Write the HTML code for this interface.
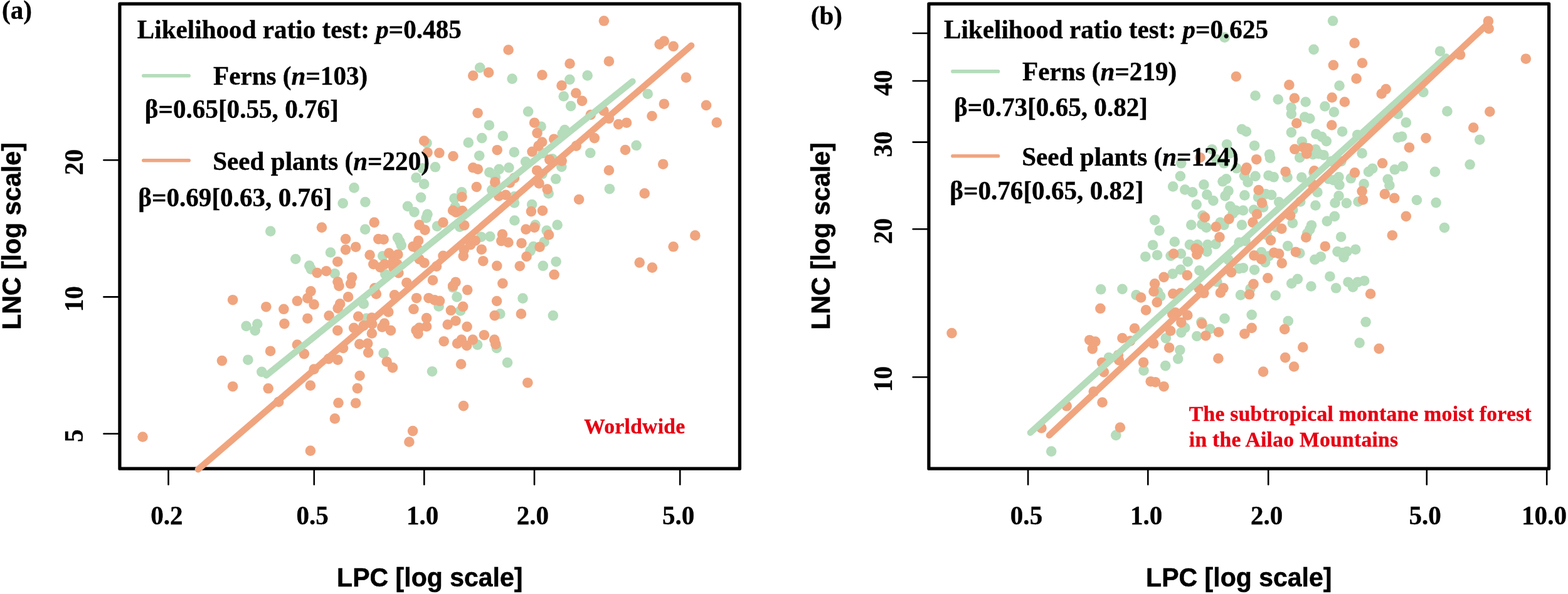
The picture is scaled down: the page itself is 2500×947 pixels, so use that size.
<!DOCTYPE html>
<html lang="en">
<head>
<meta charset="utf-8">
<title>LNC vs LPC scaling in ferns and seed plants</title>
<style>
html,body{margin:0;padding:0;background:#fff;}
body{width:2500px;height:947px;overflow:hidden;}
svg{display:block;}
text{font-family:'Liberation Serif', 'Times New Roman', serif;font-weight:bold;fill:#000;stroke:#000;stroke-width:0.35px;}
.tk{font-size:41.1px;}
.lg{font-size:41.15px;}
.ax{font-family:'Liberation Sans', Arial, sans-serif;font-size:41.05px;stroke:#000;stroke-width:0.5px;}
.rd{font-size:33.6px;fill:#E60012;stroke:#E60012;letter-spacing:0.28px;}
.it{font-style:italic;}
</style>
</head>
<body>
<svg width="2500" height="947" viewBox="0 0 2500 947">
<rect x="0" y="0" width="2500" height="947" fill="#fff"/>
<g id="panel-a">
<rect x="190.9" y="6.2" width="988.5000000000001" height="741.0" fill="none" stroke="#000" stroke-width="5.2" stroke-linejoin="round"/>
<g fill="#B5DCBB"><circle cx="765.2" cy="107.9" r="8.3"/><circle cx="816.6" cy="125.6" r="8.3"/><circle cx="936.6" cy="120.4" r="8.3"/><circle cx="908.3" cy="126.8" r="8.3"/><circle cx="898.7" cy="153.5" r="8.3"/><circle cx="910.1" cy="169.1" r="8.3"/><circle cx="842.1" cy="177.8" r="8.3"/><circle cx="1032.7" cy="149.7" r="8.3"/><circle cx="779.9" cy="199.7" r="8.3"/><circle cx="862.6" cy="201.7" r="8.3"/><circle cx="900.3" cy="207.1" r="8.3"/><circle cx="896.7" cy="213.1" r="8.3"/><circle cx="801.8" cy="216.7" r="8.3"/><circle cx="768.3" cy="220.1" r="8.3"/><circle cx="746.8" cy="227.4" r="8.3"/><circle cx="1014.6" cy="231.8" r="8.3"/><circle cx="941.2" cy="243.8" r="8.3"/><circle cx="819.8" cy="242.6" r="8.3"/><circle cx="764.2" cy="248.2" r="8.3"/><circle cx="694.0" cy="266.3" r="8.3"/><circle cx="838.1" cy="257.8" r="8.3"/><circle cx="880.6" cy="253.2" r="8.3"/><circle cx="865.6" cy="244.2" r="8.3"/><circle cx="811.4" cy="267.3" r="8.3"/><circle cx="795.7" cy="269.9" r="8.3"/><circle cx="780.3" cy="274.7" r="8.3"/><circle cx="789.9" cy="282.3" r="8.3"/><circle cx="895.3" cy="265.9" r="8.3"/><circle cx="864.6" cy="277.3" r="8.3"/><circle cx="886.2" cy="285.3" r="8.3"/><circle cx="971.9" cy="301.2" r="8.3"/><circle cx="736.1" cy="306.4" r="8.3"/><circle cx="724.5" cy="316.4" r="8.3"/><circle cx="784.3" cy="302.8" r="8.3"/><circle cx="874.6" cy="308.4" r="8.3"/><circle cx="820.0" cy="313.4" r="8.3"/><circle cx="820.0" cy="323.5" r="8.3"/><circle cx="848.1" cy="326.1" r="8.3"/><circle cx="725.7" cy="329.5" r="8.3"/><circle cx="820.4" cy="351.5" r="8.3"/><circle cx="853.5" cy="358.6" r="8.3"/><circle cx="888.6" cy="358.6" r="8.3"/><circle cx="697.0" cy="360.6" r="8.3"/><circle cx="733.1" cy="361.6" r="8.3"/><circle cx="871.6" cy="367.6" r="8.3"/><circle cx="867.6" cy="385.7" r="8.3"/><circle cx="850.5" cy="393.1" r="8.3"/><circle cx="845.5" cy="400.1" r="8.3"/><circle cx="767.2" cy="377.7" r="8.3"/><circle cx="781.3" cy="377.1" r="8.3"/><circle cx="886.6" cy="417.2" r="8.3"/><circle cx="865.8" cy="423.8" r="8.3"/><circle cx="722.1" cy="458.3" r="8.3"/><circle cx="728.5" cy="473.4" r="8.3"/><circle cx="833.5" cy="475.6" r="8.3"/><circle cx="699.6" cy="488.4" r="8.3"/><circle cx="734.1" cy="495.4" r="8.3"/><circle cx="797.3" cy="500.4" r="8.3"/><circle cx="881.8" cy="503.1" r="8.3"/><circle cx="761.2" cy="549.6" r="8.3"/><circle cx="791.9" cy="555.0" r="8.3"/><circle cx="809.0" cy="578.1" r="8.3"/><circle cx="689.0" cy="592.2" r="8.3"/><circle cx="680.5" cy="228.2" r="8.3"/><circle cx="673.5" cy="268.3" r="8.3"/><circle cx="663.5" cy="283.3" r="8.3"/><circle cx="676.1" cy="293.4" r="8.3"/><circle cx="564.6" cy="299.4" r="8.3"/><circle cx="671.1" cy="314.8" r="8.3"/><circle cx="546.7" cy="324.1" r="8.3"/><circle cx="582.4" cy="322.1" r="8.3"/><circle cx="650.0" cy="328.9" r="8.3"/><circle cx="660.5" cy="338.1" r="8.3"/><circle cx="681.5" cy="341.5" r="8.3"/><circle cx="679.5" cy="347.5" r="8.3"/><circle cx="431.3" cy="368.6" r="8.3"/><circle cx="582.2" cy="365.6" r="8.3"/><circle cx="634.0" cy="379.1" r="8.3"/><circle cx="637.4" cy="385.1" r="8.3"/><circle cx="639.8" cy="391.1" r="8.3"/><circle cx="527.0" cy="402.5" r="8.3"/><circle cx="610.3" cy="408.2" r="8.3"/><circle cx="471.3" cy="413.0" r="8.3"/><circle cx="493.3" cy="423.6" r="8.3"/><circle cx="495.9" cy="429.2" r="8.3"/><circle cx="533.7" cy="436.2" r="8.3"/><circle cx="614.3" cy="437.2" r="8.3"/><circle cx="579.8" cy="484.4" r="8.3"/><circle cx="584.2" cy="507.5" r="8.3"/><circle cx="392.6" cy="519.9" r="8.3"/><circle cx="410.3" cy="516.5" r="8.3"/><circle cx="406.7" cy="526.9" r="8.3"/><circle cx="395.4" cy="573.7" r="8.3"/><circle cx="417.3" cy="592.8" r="8.3"/><circle cx="611.7" cy="563.1" r="8.3"/></g>
<g fill="#F0A57F"><circle cx="962.9" cy="33.3" r="8.3"/><circle cx="810.6" cy="79.5" r="8.3"/><circle cx="1051.6" cy="70.6" r="8.3"/><circle cx="1058.8" cy="65.6" r="8.3"/><circle cx="1073.6" cy="73.8" r="8.3"/><circle cx="908.5" cy="101.5" r="8.3"/><circle cx="970.9" cy="97.7" r="8.3"/><circle cx="754.2" cy="120.6" r="8.3"/><circle cx="779.1" cy="115.6" r="8.3"/><circle cx="864.4" cy="119.6" r="8.3"/><circle cx="1093.9" cy="123.6" r="8.3"/><circle cx="895.5" cy="136.4" r="8.3"/><circle cx="918.3" cy="148.5" r="8.3"/><circle cx="928.0" cy="160.9" r="8.3"/><circle cx="1058.8" cy="165.7" r="8.3"/><circle cx="1126.0" cy="167.9" r="8.3"/><circle cx="761.6" cy="180.2" r="8.3"/><circle cx="962.5" cy="176.6" r="8.3"/><circle cx="1039.5" cy="185.0" r="8.3"/><circle cx="941.8" cy="183.0" r="8.3"/><circle cx="970.9" cy="189.0" r="8.3"/><circle cx="986.1" cy="198.1" r="8.3"/><circle cx="999.0" cy="195.7" r="8.3"/><circle cx="1142.8" cy="195.4" r="8.3"/><circle cx="852.1" cy="195.7" r="8.3"/><circle cx="856.5" cy="212.1" r="8.3"/><circle cx="864.2" cy="226.5" r="8.3"/><circle cx="858.5" cy="232.6" r="8.3"/><circle cx="848.5" cy="241.8" r="8.3"/><circle cx="883.2" cy="221.7" r="8.3"/><circle cx="947.8" cy="220.1" r="8.3"/><circle cx="918.7" cy="232.6" r="8.3"/><circle cx="997.0" cy="239.0" r="8.3"/><circle cx="700.4" cy="243.8" r="8.3"/><circle cx="722.5" cy="249.0" r="8.3"/><circle cx="792.7" cy="239.2" r="8.3"/><circle cx="754.2" cy="267.3" r="8.3"/><circle cx="761.8" cy="269.7" r="8.3"/><circle cx="876.2" cy="254.6" r="8.3"/><circle cx="895.7" cy="256.6" r="8.3"/><circle cx="856.1" cy="271.7" r="8.3"/><circle cx="970.9" cy="271.5" r="8.3"/><circle cx="1057.2" cy="261.7" r="8.3"/><circle cx="789.3" cy="290.4" r="8.3"/><circle cx="820.0" cy="283.9" r="8.3"/><circle cx="812.8" cy="291.4" r="8.3"/><circle cx="759.8" cy="298.0" r="8.3"/><circle cx="859.5" cy="292.4" r="8.3"/><circle cx="872.6" cy="301.6" r="8.3"/><circle cx="736.5" cy="314.0" r="8.3"/><circle cx="795.3" cy="312.4" r="8.3"/><circle cx="806.4" cy="310.8" r="8.3"/><circle cx="923.1" cy="318.0" r="8.3"/><circle cx="1027.7" cy="308.4" r="8.3"/><circle cx="722.1" cy="335.5" r="8.3"/><circle cx="727.1" cy="338.5" r="8.3"/><circle cx="737.2" cy="336.1" r="8.3"/><circle cx="846.9" cy="337.1" r="8.3"/><circle cx="865.0" cy="335.9" r="8.3"/><circle cx="706.5" cy="354.6" r="8.3"/><circle cx="740.2" cy="359.2" r="8.3"/><circle cx="838.5" cy="365.6" r="8.3"/><circle cx="852.1" cy="362.6" r="8.3"/><circle cx="1108.3" cy="375.4" r="8.3"/><circle cx="1073.6" cy="393.3" r="8.3"/><circle cx="1019.7" cy="418.6" r="8.3"/><circle cx="1039.9" cy="426.6" r="8.3"/><circle cx="875.0" cy="374.4" r="8.3"/><circle cx="860.5" cy="393.7" r="8.3"/><circle cx="839.5" cy="409.0" r="8.3"/><circle cx="831.5" cy="387.7" r="8.3"/><circle cx="828.8" cy="424.2" r="8.3"/><circle cx="801.0" cy="373.6" r="8.3"/><circle cx="799.3" cy="384.1" r="8.3"/><circle cx="810.4" cy="386.5" r="8.3"/><circle cx="757.8" cy="383.7" r="8.3"/><circle cx="750.2" cy="390.1" r="8.3"/><circle cx="739.8" cy="398.3" r="8.3"/><circle cx="767.8" cy="397.7" r="8.3"/><circle cx="738.8" cy="408.2" r="8.3"/><circle cx="706.5" cy="407.8" r="8.3"/><circle cx="770.3" cy="416.2" r="8.3"/><circle cx="792.3" cy="423.8" r="8.3"/><circle cx="696.0" cy="424.6" r="8.3"/><circle cx="883.6" cy="437.8" r="8.3"/><circle cx="690.0" cy="446.7" r="8.3"/><circle cx="726.5" cy="449.7" r="8.3"/><circle cx="722.1" cy="455.9" r="8.3"/><circle cx="745.2" cy="462.3" r="8.3"/><circle cx="801.4" cy="451.9" r="8.3"/><circle cx="792.1" cy="480.0" r="8.3"/><circle cx="693.0" cy="478.4" r="8.3"/><circle cx="701.0" cy="479.8" r="8.3"/><circle cx="738.2" cy="488.8" r="8.3"/><circle cx="718.9" cy="494.8" r="8.3"/><circle cx="788.7" cy="503.1" r="8.3"/><circle cx="830.9" cy="500.4" r="8.3"/><circle cx="726.5" cy="511.5" r="8.3"/><circle cx="713.7" cy="517.5" r="8.3"/><circle cx="744.6" cy="520.9" r="8.3"/><circle cx="771.9" cy="534.2" r="8.3"/><circle cx="788.3" cy="541.6" r="8.3"/><circle cx="707.7" cy="544.2" r="8.3"/><circle cx="735.7" cy="541.6" r="8.3"/><circle cx="753.8" cy="541.6" r="8.3"/><circle cx="729.1" cy="547.6" r="8.3"/><circle cx="790.3" cy="548.6" r="8.3"/><circle cx="744.2" cy="551.0" r="8.3"/><circle cx="735.1" cy="580.5" r="8.3"/><circle cx="841.3" cy="610.2" r="8.3"/><circle cx="739.0" cy="647.1" r="8.3"/><circle cx="676.1" cy="224.5" r="8.3"/><circle cx="681.5" cy="243.2" r="8.3"/><circle cx="596.7" cy="354.6" r="8.3"/><circle cx="513.0" cy="362.6" r="8.3"/><circle cx="668.5" cy="358.6" r="8.3"/><circle cx="677.5" cy="366.6" r="8.3"/><circle cx="551.1" cy="381.1" r="8.3"/><circle cx="551.1" cy="398.1" r="8.3"/><circle cx="567.2" cy="393.7" r="8.3"/><circle cx="603.3" cy="381.1" r="8.3"/><circle cx="611.7" cy="381.7" r="8.3"/><circle cx="667.1" cy="383.7" r="8.3"/><circle cx="658.5" cy="393.1" r="8.3"/><circle cx="665.5" cy="396.1" r="8.3"/><circle cx="589.6" cy="406.5" r="8.3"/><circle cx="620.3" cy="403.5" r="8.3"/><circle cx="634.4" cy="405.7" r="8.3"/><circle cx="627.4" cy="412.2" r="8.3"/><circle cx="595.3" cy="421.2" r="8.3"/><circle cx="606.3" cy="426.2" r="8.3"/><circle cx="613.3" cy="421.2" r="8.3"/><circle cx="625.4" cy="420.2" r="8.3"/><circle cx="633.4" cy="421.2" r="8.3"/><circle cx="627.4" cy="427.2" r="8.3"/><circle cx="635.4" cy="435.2" r="8.3"/><circle cx="668.5" cy="413.2" r="8.3"/><circle cx="676.5" cy="419.2" r="8.3"/><circle cx="538.3" cy="417.2" r="8.3"/><circle cx="505.6" cy="435.0" r="8.3"/><circle cx="520.2" cy="432.2" r="8.3"/><circle cx="538.5" cy="449.3" r="8.3"/><circle cx="540.5" cy="455.9" r="8.3"/><circle cx="561.2" cy="442.3" r="8.3"/><circle cx="559.1" cy="452.3" r="8.3"/><circle cx="495.5" cy="464.3" r="8.3"/><circle cx="490.3" cy="475.4" r="8.3"/><circle cx="473.9" cy="479.8" r="8.3"/><circle cx="500.6" cy="485.4" r="8.3"/><circle cx="555.1" cy="473.4" r="8.3"/><circle cx="542.1" cy="484.4" r="8.3"/><circle cx="538.7" cy="491.4" r="8.3"/><circle cx="597.3" cy="459.3" r="8.3"/><circle cx="599.9" cy="468.7" r="8.3"/><circle cx="371.1" cy="478.2" r="8.3"/><circle cx="424.3" cy="489.2" r="8.3"/><circle cx="452.4" cy="492.8" r="8.3"/><circle cx="453.4" cy="516.1" r="8.3"/><circle cx="490.3" cy="507.7" r="8.3"/><circle cx="524.6" cy="503.3" r="8.3"/><circle cx="648.4" cy="450.7" r="8.3"/><circle cx="629.0" cy="470.4" r="8.3"/><circle cx="664.1" cy="475.2" r="8.3"/><circle cx="683.5" cy="475.2" r="8.3"/><circle cx="659.5" cy="492.8" r="8.3"/><circle cx="619.3" cy="497.4" r="8.3"/><circle cx="571.2" cy="504.5" r="8.3"/><circle cx="592.7" cy="506.5" r="8.3"/><circle cx="593.3" cy="516.5" r="8.3"/><circle cx="579.8" cy="519.1" r="8.3"/><circle cx="564.2" cy="522.9" r="8.3"/><circle cx="538.3" cy="526.9" r="8.3"/><circle cx="592.9" cy="531.5" r="8.3"/><circle cx="612.9" cy="515.5" r="8.3"/><circle cx="609.3" cy="521.5" r="8.3"/><circle cx="623.0" cy="526.9" r="8.3"/><circle cx="680.1" cy="507.1" r="8.3"/><circle cx="680.1" cy="520.5" r="8.3"/><circle cx="668.5" cy="522.5" r="8.3"/><circle cx="663.5" cy="526.5" r="8.3"/><circle cx="666.5" cy="532.2" r="8.3"/><circle cx="473.9" cy="549.6" r="8.3"/><circle cx="573.2" cy="548.6" r="8.3"/><circle cx="586.2" cy="547.6" r="8.3"/><circle cx="227.5" cy="696.5" r="8.3"/><circle cx="353.9" cy="575.1" r="8.3"/><circle cx="431.1" cy="559.7" r="8.3"/><circle cx="484.9" cy="564.1" r="8.3"/><circle cx="371.1" cy="616.2" r="8.3"/><circle cx="427.7" cy="619.3" r="8.3"/><circle cx="494.9" cy="614.6" r="8.3"/><circle cx="500.6" cy="588.6" r="8.3"/><circle cx="524.0" cy="572.1" r="8.3"/><circle cx="538.5" cy="573.7" r="8.3"/><circle cx="547.1" cy="555.0" r="8.3"/><circle cx="444.2" cy="640.7" r="8.3"/><circle cx="587.2" cy="562.1" r="8.3"/><circle cx="616.7" cy="576.7" r="8.3"/><circle cx="626.0" cy="586.1" r="8.3"/><circle cx="573.6" cy="599.0" r="8.3"/><circle cx="569.8" cy="619.1" r="8.3"/><circle cx="539.5" cy="642.3" r="8.3"/><circle cx="567.2" cy="642.7" r="8.3"/><circle cx="533.9" cy="667.4" r="8.3"/><circle cx="658.1" cy="687.1" r="8.3"/><circle cx="652.4" cy="704.5" r="8.3"/><circle cx="494.9" cy="718.6" r="8.3"/></g>
<line x1="424.5" y1="598.5" x2="1008.5" y2="129.8" stroke="#B5DCBB" stroke-width="10.3" stroke-linecap="round"/>
<line x1="315.8" y1="748.3" x2="1102.2" y2="72.6" stroke="#F0A57F" stroke-width="10.3" stroke-linecap="round"/>
<line x1="268.5" y1="747.2" x2="268.5" y2="772.4" stroke="#000" stroke-width="2.6" stroke-linecap="round"/>
<text transform="translate(265.90,835.80) scale(1,1.04)" text-anchor="middle" class="tk">0.2</text>
<line x1="500.8" y1="747.2" x2="500.8" y2="772.4" stroke="#000" stroke-width="2.6" stroke-linecap="round"/>
<text transform="translate(498.20,835.80) scale(1,1.04)" text-anchor="middle" class="tk">0.5</text>
<line x1="676.3" y1="747.2" x2="676.3" y2="772.4" stroke="#000" stroke-width="2.6" stroke-linecap="round"/>
<text transform="translate(673.70,835.80) scale(1,1.04)" text-anchor="middle" class="tk">1.0</text>
<line x1="852" y1="747.2" x2="852" y2="772.4" stroke="#000" stroke-width="2.6" stroke-linecap="round"/>
<text transform="translate(849.40,835.80) scale(1,1.04)" text-anchor="middle" class="tk">2.0</text>
<line x1="1084.2" y1="747.2" x2="1084.2" y2="772.4" stroke="#000" stroke-width="2.6" stroke-linecap="round"/>
<text transform="translate(1081.60,835.80) scale(1,1.04)" text-anchor="middle" class="tk">5.0</text>
<line x1="191.2" y1="255.3" x2="165.39999999999998" y2="255.3" stroke="#000" stroke-width="2.6" stroke-linecap="round"/>
<text transform="translate(132.10,258.60) rotate(-90) scale(1,1.04)" text-anchor="middle" class="tk">20</text>
<line x1="191.2" y1="473.4" x2="165.39999999999998" y2="473.4" stroke="#000" stroke-width="2.6" stroke-linecap="round"/>
<text transform="translate(132.10,476.70) rotate(-90) scale(1,1.04)" text-anchor="middle" class="tk">10</text>
<line x1="191.2" y1="691.5" x2="165.39999999999998" y2="691.5" stroke="#000" stroke-width="2.6" stroke-linecap="round"/>
<text transform="translate(132.10,694.80) rotate(-90) scale(1,1.04)" text-anchor="middle" class="tk">5</text>
<text transform="translate(685.30,935.00) scale(1,1.04)" text-anchor="middle" class="ax">LPC [log scale]</text>
<text transform="translate(32.70,376.50) rotate(-90) scale(1,1.04)" text-anchor="middle" class="ax">LNC [log scale]</text>
<text transform="translate(3.00,29.80) scale(1,1.02)" class="lg">(a)</text>
<text transform="translate(218.80,60.60) scale(1,1.02)" class="lg">Likelihood ratio test: <tspan class="it">p</tspan>=0.485</text>
<line x1="228.8" y1="120.8" x2="301.2" y2="120.8" stroke="#B5DCBB" stroke-width="5.6" stroke-linecap="round"/>
<text transform="translate(340.00,135.00) scale(1,1.02)" class="lg">Ferns (<tspan class="it">n</tspan>=103)</text>
<text transform="translate(230.80,188.00) scale(1,1.02)" class="lg">β=0.65[0.55, 0.76]</text>
<line x1="228.8" y1="255.8" x2="301.2" y2="255.8" stroke="#F0A57F" stroke-width="5.6" stroke-linecap="round"/>
<text transform="translate(339.20,270.80) scale(1,1.02)" class="lg">Seed plants (<tspan class="it">n</tspan>=220)</text>
<text transform="translate(220.30,329.40) scale(1,1.02)" class="lg">β=0.69[0.63, 0.76]</text>
<text transform="translate(931.30,690.90)" class="rd">Worldwide</text>
</g>
<g id="panel-b">
<rect x="1480.9" y="6.2" width="988.6999999999998" height="741.0" fill="none" stroke="#000" stroke-width="5.2" stroke-linejoin="round"/>
<g fill="#B5DCBB"><circle cx="2125.1" cy="33.3" r="8.3"/><circle cx="2094.6" cy="78.9" r="8.3"/><circle cx="2296.0" cy="81.7" r="8.3"/><circle cx="2135.5" cy="136.6" r="8.3"/><circle cx="2001.5" cy="152.5" r="8.3"/><circle cx="2037.8" cy="158.5" r="8.3"/><circle cx="2081.7" cy="162.5" r="8.3"/><circle cx="2058.7" cy="171.5" r="8.3"/><circle cx="2058.9" cy="181.6" r="8.3"/><circle cx="2112.4" cy="169.5" r="8.3"/><circle cx="2126.9" cy="178.6" r="8.3"/><circle cx="2269.3" cy="146.9" r="8.3"/><circle cx="2307.4" cy="177.4" r="8.3"/><circle cx="2228.8" cy="181.6" r="8.3"/><circle cx="2080.3" cy="186.6" r="8.3"/><circle cx="2088.3" cy="189.0" r="8.3"/><circle cx="2241.8" cy="195.4" r="8.3"/><circle cx="1987.0" cy="209.7" r="8.3"/><circle cx="1980.0" cy="206.1" r="8.3"/><circle cx="2058.9" cy="211.1" r="8.3"/><circle cx="2140.1" cy="209.7" r="8.3"/><circle cx="2164.2" cy="215.1" r="8.3"/><circle cx="2098.4" cy="213.7" r="8.3"/><circle cx="2107.4" cy="218.1" r="8.3"/><circle cx="2114.8" cy="225.1" r="8.3"/><circle cx="2075.9" cy="225.7" r="8.3"/><circle cx="2228.8" cy="219.1" r="8.3"/><circle cx="2235.2" cy="217.7" r="8.3"/><circle cx="2359.2" cy="222.7" r="8.3"/><circle cx="2000.1" cy="232.2" r="8.3"/><circle cx="2024.1" cy="246.2" r="8.3"/><circle cx="2025.1" cy="251.8" r="8.3"/><circle cx="2097.4" cy="238.2" r="8.3"/><circle cx="2093.4" cy="246.2" r="8.3"/><circle cx="2102.4" cy="245.2" r="8.3"/><circle cx="2110.4" cy="247.2" r="8.3"/><circle cx="2072.3" cy="251.2" r="8.3"/><circle cx="2171.6" cy="244.4" r="8.3"/><circle cx="2122.5" cy="257.2" r="8.3"/><circle cx="2138.5" cy="257.2" r="8.3"/><circle cx="2343.6" cy="262.3" r="8.3"/><circle cx="2288.0" cy="273.9" r="8.3"/><circle cx="2236.8" cy="265.3" r="8.3"/><circle cx="2223.8" cy="270.3" r="8.3"/><circle cx="2188.3" cy="268.7" r="8.3"/><circle cx="2182.0" cy="273.9" r="8.3"/><circle cx="1984.0" cy="280.3" r="8.3"/><circle cx="2001.5" cy="280.9" r="8.3"/><circle cx="2022.5" cy="279.7" r="8.3"/><circle cx="2030.8" cy="282.3" r="8.3"/><circle cx="2052.6" cy="282.7" r="8.3"/><circle cx="2075.3" cy="282.7" r="8.3"/><circle cx="2094.4" cy="275.3" r="8.3"/><circle cx="2134.5" cy="282.3" r="8.3"/><circle cx="2126.5" cy="287.3" r="8.3"/><circle cx="2118.4" cy="285.3" r="8.3"/><circle cx="2135.5" cy="294.8" r="8.3"/><circle cx="2153.8" cy="284.3" r="8.3"/><circle cx="2174.6" cy="293.4" r="8.3"/><circle cx="2212.7" cy="285.9" r="8.3"/><circle cx="2215.4" cy="295.4" r="8.3"/><circle cx="1989.6" cy="290.4" r="8.3"/><circle cx="2100.4" cy="306.4" r="8.3"/><circle cx="1984.4" cy="311.4" r="8.3"/><circle cx="2018.1" cy="309.4" r="8.3"/><circle cx="2027.2" cy="310.8" r="8.3"/><circle cx="2006.1" cy="314.4" r="8.3"/><circle cx="2134.5" cy="312.4" r="8.3"/><circle cx="2128.5" cy="323.5" r="8.3"/><circle cx="2146.9" cy="323.9" r="8.3"/><circle cx="2165.6" cy="321.5" r="8.3"/><circle cx="2258.9" cy="319.0" r="8.3"/><circle cx="2289.6" cy="323.1" r="8.3"/><circle cx="2039.2" cy="322.1" r="8.3"/><circle cx="2073.3" cy="321.5" r="8.3"/><circle cx="2097.4" cy="327.5" r="8.3"/><circle cx="1999.1" cy="334.5" r="8.3"/><circle cx="2014.1" cy="330.5" r="8.3"/><circle cx="1982.0" cy="335.5" r="8.3"/><circle cx="2061.3" cy="334.5" r="8.3"/><circle cx="2127.9" cy="344.9" r="8.3"/><circle cx="2115.8" cy="352.6" r="8.3"/><circle cx="2060.9" cy="355.6" r="8.3"/><circle cx="2091.0" cy="359.2" r="8.3"/><circle cx="2088.3" cy="365.6" r="8.3"/><circle cx="1980.0" cy="358.6" r="8.3"/><circle cx="2303.0" cy="363.0" r="8.3"/><circle cx="2034.2" cy="361.6" r="8.3"/><circle cx="2084.3" cy="372.0" r="8.3"/><circle cx="2020.1" cy="375.0" r="8.3"/><circle cx="2138.1" cy="377.7" r="8.3"/><circle cx="2053.2" cy="392.1" r="8.3"/><circle cx="2011.1" cy="402.1" r="8.3"/><circle cx="2072.3" cy="403.7" r="8.3"/><circle cx="2161.2" cy="397.7" r="8.3"/><circle cx="2132.5" cy="401.1" r="8.3"/><circle cx="2147.5" cy="401.1" r="8.3"/><circle cx="2142.5" cy="410.2" r="8.3"/><circle cx="2140.5" cy="403.1" r="8.3"/><circle cx="2105.8" cy="409.2" r="8.3"/><circle cx="2096.4" cy="413.8" r="8.3"/><circle cx="2023.1" cy="408.2" r="8.3"/><circle cx="2017.1" cy="418.2" r="8.3"/><circle cx="1982.0" cy="427.2" r="8.3"/><circle cx="2000.1" cy="430.2" r="8.3"/><circle cx="2068.9" cy="444.9" r="8.3"/><circle cx="2059.3" cy="451.9" r="8.3"/><circle cx="2120.4" cy="440.7" r="8.3"/><circle cx="2090.4" cy="456.5" r="8.3"/><circle cx="2130.1" cy="459.3" r="8.3"/><circle cx="2149.5" cy="449.7" r="8.3"/><circle cx="2157.0" cy="457.7" r="8.3"/><circle cx="2164.6" cy="449.7" r="8.3"/><circle cx="2175.2" cy="447.7" r="8.3"/><circle cx="1993.6" cy="460.3" r="8.3"/><circle cx="1978.0" cy="470.4" r="8.3"/><circle cx="2033.8" cy="471.0" r="8.3"/><circle cx="1995.7" cy="501.9" r="8.3"/><circle cx="2053.8" cy="511.9" r="8.3"/><circle cx="2177.6" cy="513.3" r="8.3"/><circle cx="2167.6" cy="546.6" r="8.3"/><circle cx="1952.5" cy="59.6" r="8.3"/><circle cx="1956.1" cy="230.2" r="8.3"/><circle cx="1932.4" cy="238.2" r="8.3"/><circle cx="1961.5" cy="244.2" r="8.3"/><circle cx="1939.4" cy="254.2" r="8.3"/><circle cx="1883.3" cy="260.3" r="8.3"/><circle cx="1951.5" cy="260.3" r="8.3"/><circle cx="1971.5" cy="268.3" r="8.3"/><circle cx="1881.9" cy="280.9" r="8.3"/><circle cx="1955.1" cy="285.3" r="8.3"/><circle cx="1949.5" cy="289.3" r="8.3"/><circle cx="1870.2" cy="297.4" r="8.3"/><circle cx="1889.3" cy="302.4" r="8.3"/><circle cx="1901.3" cy="306.4" r="8.3"/><circle cx="1919.4" cy="294.4" r="8.3"/><circle cx="1924.4" cy="310.4" r="8.3"/><circle cx="1934.4" cy="320.0" r="8.3"/><circle cx="1958.5" cy="304.4" r="8.3"/><circle cx="1953.5" cy="312.4" r="8.3"/><circle cx="1907.7" cy="326.1" r="8.3"/><circle cx="1961.5" cy="329.1" r="8.3"/><circle cx="1970.5" cy="335.5" r="8.3"/><circle cx="1965.5" cy="340.5" r="8.3"/><circle cx="1841.1" cy="350.9" r="8.3"/><circle cx="1917.4" cy="343.5" r="8.3"/><circle cx="1899.3" cy="358.6" r="8.3"/><circle cx="1916.4" cy="357.6" r="8.3"/><circle cx="1923.4" cy="362.6" r="8.3"/><circle cx="1945.5" cy="354.6" r="8.3"/><circle cx="1951.5" cy="358.6" r="8.3"/><circle cx="1848.5" cy="367.6" r="8.3"/><circle cx="1872.8" cy="385.5" r="8.3"/><circle cx="1838.1" cy="390.7" r="8.3"/><circle cx="1896.9" cy="390.1" r="8.3"/><circle cx="1909.3" cy="390.1" r="8.3"/><circle cx="1925.4" cy="390.1" r="8.3"/><circle cx="1938.4" cy="389.1" r="8.3"/><circle cx="1924.4" cy="401.1" r="8.3"/><circle cx="1826.3" cy="409.2" r="8.3"/><circle cx="1845.1" cy="406.7" r="8.3"/><circle cx="1866.6" cy="407.8" r="8.3"/><circle cx="1882.9" cy="404.5" r="8.3"/><circle cx="1893.7" cy="417.2" r="8.3"/><circle cx="1882.3" cy="429.8" r="8.3"/><circle cx="1869.6" cy="436.6" r="8.3"/><circle cx="1912.4" cy="431.2" r="8.3"/><circle cx="1975.6" cy="386.5" r="8.3"/><circle cx="1985.6" cy="384.1" r="8.3"/><circle cx="1958.5" cy="414.2" r="8.3"/><circle cx="1975.6" cy="428.2" r="8.3"/><circle cx="1755.2" cy="461.3" r="8.3"/><circle cx="1789.4" cy="460.9" r="8.3"/><circle cx="1811.6" cy="470.4" r="8.3"/><circle cx="1846.1" cy="465.3" r="8.3"/><circle cx="1850.2" cy="472.4" r="8.3"/><circle cx="1940.4" cy="449.3" r="8.3"/><circle cx="1952.5" cy="507.9" r="8.3"/><circle cx="1915.4" cy="513.5" r="8.3"/><circle cx="1929.4" cy="524.5" r="8.3"/><circle cx="1889.3" cy="522.5" r="8.3"/><circle cx="1883.3" cy="530.1" r="8.3"/><circle cx="1908.3" cy="536.0" r="8.3"/><circle cx="1858.8" cy="539.2" r="8.3"/><circle cx="1881.3" cy="558.1" r="8.3"/><circle cx="1878.2" cy="572.1" r="8.3"/><circle cx="1858.2" cy="583.1" r="8.3"/><circle cx="1823.5" cy="590.6" r="8.3"/><circle cx="1767.9" cy="570.1" r="8.3"/><circle cx="1779.3" cy="693.9" r="8.3"/><circle cx="1676.2" cy="719.6" r="8.3"/></g>
<g fill="#F0A57F"><circle cx="2372.9" cy="33.7" r="8.3"/><circle cx="2373.7" cy="45.7" r="8.3"/><circle cx="2159.6" cy="68.6" r="8.3"/><circle cx="2125.9" cy="103.9" r="8.3"/><circle cx="2172.0" cy="100.5" r="8.3"/><circle cx="2162.6" cy="125.4" r="8.3"/><circle cx="2328.1" cy="87.3" r="8.3"/><circle cx="2432.8" cy="93.7" r="8.3"/><circle cx="2055.4" cy="135.4" r="8.3"/><circle cx="2209.7" cy="142.1" r="8.3"/><circle cx="2202.7" cy="149.5" r="8.3"/><circle cx="2063.9" cy="156.5" r="8.3"/><circle cx="2123.7" cy="155.5" r="8.3"/><circle cx="2143.9" cy="162.5" r="8.3"/><circle cx="2375.3" cy="178.0" r="8.3"/><circle cx="2067.3" cy="196.5" r="8.3"/><circle cx="2123.3" cy="199.5" r="8.3"/><circle cx="2349.2" cy="203.5" r="8.3"/><circle cx="2273.5" cy="220.1" r="8.3"/><circle cx="2246.9" cy="235.2" r="8.3"/><circle cx="2064.3" cy="237.8" r="8.3"/><circle cx="2078.3" cy="235.2" r="8.3"/><circle cx="2085.3" cy="236.2" r="8.3"/><circle cx="2083.3" cy="245.2" r="8.3"/><circle cx="2003.3" cy="254.2" r="8.3"/><circle cx="1987.6" cy="267.3" r="8.3"/><circle cx="1986.0" cy="271.3" r="8.3"/><circle cx="2049.6" cy="273.7" r="8.3"/><circle cx="2095.4" cy="272.3" r="8.3"/><circle cx="2204.1" cy="260.3" r="8.3"/><circle cx="2160.0" cy="275.3" r="8.3"/><circle cx="2006.7" cy="303.0" r="8.3"/><circle cx="2171.6" cy="304.8" r="8.3"/><circle cx="2173.0" cy="318.4" r="8.3"/><circle cx="2207.9" cy="309.4" r="8.3"/><circle cx="2223.2" cy="315.8" r="8.3"/><circle cx="2012.1" cy="323.5" r="8.3"/><circle cx="2004.1" cy="341.5" r="8.3"/><circle cx="1997.5" cy="354.6" r="8.3"/><circle cx="2057.2" cy="343.5" r="8.3"/><circle cx="2241.8" cy="344.9" r="8.3"/><circle cx="2043.4" cy="364.6" r="8.3"/><circle cx="2093.4" cy="294.4" r="8.3"/><circle cx="2219.8" cy="375.2" r="8.3"/><circle cx="2082.3" cy="378.5" r="8.3"/><circle cx="2026.1" cy="383.1" r="8.3"/><circle cx="2112.8" cy="392.7" r="8.3"/><circle cx="2065.9" cy="401.7" r="8.3"/><circle cx="2031.2" cy="402.7" r="8.3"/><circle cx="2039.2" cy="404.5" r="8.3"/><circle cx="1999.5" cy="407.4" r="8.3"/><circle cx="2011.1" cy="413.2" r="8.3"/><circle cx="2043.8" cy="419.6" r="8.3"/><circle cx="2021.3" cy="443.3" r="8.3"/><circle cx="1998.5" cy="452.9" r="8.3"/><circle cx="1992.0" cy="469.3" r="8.3"/><circle cx="2185.1" cy="468.5" r="8.3"/><circle cx="1995.7" cy="522.9" r="8.3"/><circle cx="2048.2" cy="524.9" r="8.3"/><circle cx="1984.4" cy="532.2" r="8.3"/><circle cx="2077.3" cy="553.6" r="8.3"/><circle cx="2049.2" cy="570.1" r="8.3"/><circle cx="2063.1" cy="584.5" r="8.3"/><circle cx="2014.1" cy="592.6" r="8.3"/><circle cx="2198.7" cy="555.9" r="8.3"/><circle cx="1970.9" cy="122.0" r="8.3"/><circle cx="1913.4" cy="251.2" r="8.3"/><circle cx="1921.0" cy="346.5" r="8.3"/><circle cx="1959.5" cy="349.1" r="8.3"/><circle cx="1938.8" cy="361.6" r="8.3"/><circle cx="1517.5" cy="531.1" r="8.3"/><circle cx="1944.5" cy="378.1" r="8.3"/><circle cx="1906.3" cy="396.1" r="8.3"/><circle cx="1911.3" cy="399.1" r="8.3"/><circle cx="1908.3" cy="405.7" r="8.3"/><circle cx="1871.2" cy="404.5" r="8.3"/><circle cx="1855.6" cy="441.9" r="8.3"/><circle cx="1892.9" cy="438.9" r="8.3"/><circle cx="1841.1" cy="452.3" r="8.3"/><circle cx="1839.5" cy="464.7" r="8.3"/><circle cx="1844.7" cy="482.0" r="8.3"/><circle cx="1819.1" cy="474.4" r="8.3"/><circle cx="1870.2" cy="468.3" r="8.3"/><circle cx="1882.3" cy="467.3" r="8.3"/><circle cx="1754.4" cy="491.8" r="8.3"/><circle cx="1827.1" cy="494.4" r="8.3"/><circle cx="1963.1" cy="434.2" r="8.3"/><circle cx="1911.3" cy="459.3" r="8.3"/><circle cx="1919.4" cy="467.3" r="8.3"/><circle cx="1950.5" cy="459.3" r="8.3"/><circle cx="1945.9" cy="466.7" r="8.3"/><circle cx="1869.2" cy="500.4" r="8.3"/><circle cx="1874.2" cy="498.4" r="8.3"/><circle cx="1893.3" cy="502.5" r="8.3"/><circle cx="1883.3" cy="514.1" r="8.3"/><circle cx="1866.2" cy="527.5" r="8.3"/><circle cx="1916.4" cy="516.1" r="8.3"/><circle cx="1922.4" cy="535.2" r="8.3"/><circle cx="1943.0" cy="529.5" r="8.3"/><circle cx="1809.0" cy="523.5" r="8.3"/><circle cx="1789.4" cy="539.0" r="8.3"/><circle cx="1737.2" cy="542.2" r="8.3"/><circle cx="1746.4" cy="544.6" r="8.3"/><circle cx="1802.0" cy="543.6" r="8.3"/><circle cx="1839.1" cy="547.6" r="8.3"/><circle cx="1741.8" cy="556.1" r="8.3"/><circle cx="1864.2" cy="554.4" r="8.3"/><circle cx="1756.9" cy="578.1" r="8.3"/><circle cx="1782.9" cy="566.1" r="8.3"/><circle cx="1783.9" cy="574.1" r="8.3"/><circle cx="1759.9" cy="593.2" r="8.3"/><circle cx="1823.1" cy="577.7" r="8.3"/><circle cx="1942.4" cy="571.5" r="8.3"/><circle cx="1834.7" cy="608.2" r="8.3"/><circle cx="1842.1" cy="609.2" r="8.3"/><circle cx="1855.6" cy="616.2" r="8.3"/><circle cx="1743.8" cy="624.3" r="8.3"/><circle cx="1757.5" cy="641.5" r="8.3"/><circle cx="1700.7" cy="647.3" r="8.3"/><circle cx="1785.9" cy="681.5" r="8.3"/><circle cx="1660.5" cy="682.5" r="8.3"/></g>
<line x1="1642.8" y1="689.8" x2="2306" y2="90.3" stroke="#B5DCBB" stroke-width="10.3" stroke-linecap="round"/>
<line x1="1672.9" y1="694.1" x2="2370.2" y2="39.8" stroke="#F0A57F" stroke-width="10.3" stroke-linecap="round"/>
<line x1="1639.1" y1="747.2" x2="1639.1" y2="772.4" stroke="#000" stroke-width="2.6" stroke-linecap="round"/>
<text transform="translate(1636.50,835.80) scale(1,1.04)" text-anchor="middle" class="tk">0.5</text>
<line x1="1830.3" y1="747.2" x2="1830.3" y2="772.4" stroke="#000" stroke-width="2.6" stroke-linecap="round"/>
<text transform="translate(1827.70,835.80) scale(1,1.04)" text-anchor="middle" class="tk">1.0</text>
<line x1="2022.2" y1="747.2" x2="2022.2" y2="772.4" stroke="#000" stroke-width="2.6" stroke-linecap="round"/>
<text transform="translate(2019.60,835.80) scale(1,1.04)" text-anchor="middle" class="tk">2.0</text>
<line x1="2274.8" y1="747.2" x2="2274.8" y2="772.4" stroke="#000" stroke-width="2.6" stroke-linecap="round"/>
<text transform="translate(2272.20,835.80) scale(1,1.04)" text-anchor="middle" class="tk">5.0</text>
<line x1="2466.2" y1="747.2" x2="2466.2" y2="772.4" stroke="#000" stroke-width="2.6" stroke-linecap="round"/>
<text transform="translate(2462.00,835.80) scale(1,1.04)" text-anchor="middle" class="tk">10.0</text>
<line x1="1481.5" y1="53.0" x2="1455.7" y2="53.0" stroke="#000" stroke-width="2.6" stroke-linecap="round"/>
<line x1="1481.5" y1="129.0" x2="1455.7" y2="129.0" stroke="#000" stroke-width="2.6" stroke-linecap="round"/>
<text transform="translate(1422.10,132.30) rotate(-90) scale(1,1.04)" text-anchor="middle" class="tk">40</text>
<line x1="1481.5" y1="226.6" x2="1455.7" y2="226.6" stroke="#000" stroke-width="2.6" stroke-linecap="round"/>
<text transform="translate(1422.10,229.90) rotate(-90) scale(1,1.04)" text-anchor="middle" class="tk">30</text>
<line x1="1481.5" y1="365.2" x2="1455.7" y2="365.2" stroke="#000" stroke-width="2.6" stroke-linecap="round"/>
<text transform="translate(1422.10,368.50) rotate(-90) scale(1,1.04)" text-anchor="middle" class="tk">20</text>
<line x1="1481.5" y1="601.2" x2="1455.7" y2="601.2" stroke="#000" stroke-width="2.6" stroke-linecap="round"/>
<text transform="translate(1422.10,604.50) rotate(-90) scale(1,1.04)" text-anchor="middle" class="tk">10</text>
<text transform="translate(1975.30,935.00) scale(1,1.04)" text-anchor="middle" class="ax">LPC [log scale]</text>
<text transform="translate(1322.70,376.50) rotate(-90) scale(1,1.04)" text-anchor="middle" class="ax">LNC [log scale]</text>
<text transform="translate(1292.70,38.50) scale(1,1.02)" class="lg">(b)</text>
<text transform="translate(1505.00,60.60) scale(1,1.02)" class="lg">Likelihood ratio test: <tspan class="it">p</tspan>=0.625</text>
<line x1="1518.9" y1="113.9" x2="1591.5" y2="113.9" stroke="#B5DCBB" stroke-width="5.6" stroke-linecap="round"/>
<text transform="translate(1630.00,128.20) scale(1,1.02)" class="lg">Ferns (<tspan class="it">n</tspan>=219)</text>
<text transform="translate(1521.00,185.30) scale(1,1.02)" class="lg">β=0.73[0.65, 0.82]</text>
<line x1="1518.9" y1="248.8" x2="1591.5" y2="248.8" stroke="#F0A57F" stroke-width="5.6" stroke-linecap="round"/>
<text transform="translate(1629.20,263.80) scale(1,1.02)" class="lg">Seed plants (<tspan class="it">n</tspan>=124)</text>
<text transform="translate(1514.30,318.40) scale(1,1.02)" class="lg">β=0.76[0.65, 0.82]</text>
<text transform="translate(1895.80,671.00)" class="rd">The subtropical montane moist forest</text>
<text transform="translate(1895.80,711.80)" class="rd">in the Ailao Mountains</text>
</g>
</svg>
</body>
</html>
